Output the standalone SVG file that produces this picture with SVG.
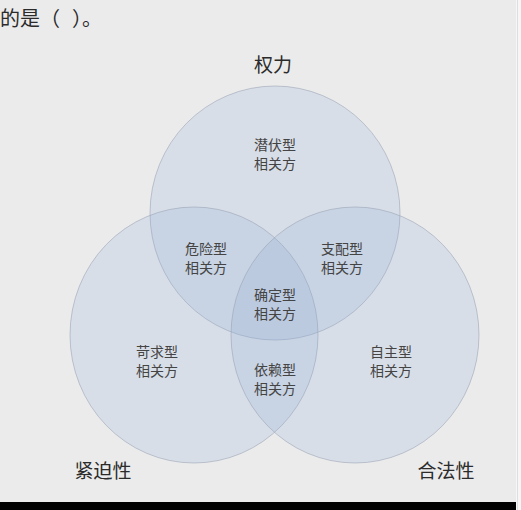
<svg xmlns="http://www.w3.org/2000/svg" width="521" height="510" viewBox="0 0 521 510">
<style>
.c{fill:rgb(140,170,215);fill-opacity:0.2;stroke:rgb(150,160,178);stroke-opacity:0.55;stroke-width:1}
.t{font-family:"Noto Sans CJK SC","Noto Sans",sans-serif;fill:#444;font-size:14px;text-anchor:middle;dominant-baseline:central}
.big{font-family:"Noto Sans CJK SC","Noto Sans",sans-serif;fill:#2b2b2b;font-size:19px;text-anchor:middle;dominant-baseline:central}
</style>
<rect x="0" y="0" width="521" height="510" fill="#ebebeb"/>
<text x="0" y="26" font-family="'Noto Sans CJK SC','Noto Sans',sans-serif" font-size="20" fill="#2b2b2b">的是（<tspan x="72">）。</tspan></text>
<g id="circle-power"><ellipse class="c" cx="275" cy="213" rx="125" ry="127"/></g>
<g id="circle-urgency"><ellipse class="c" cx="194" cy="335" rx="124" ry="128"/></g>
<g id="circle-legitimacy"><ellipse class="c" cx="355" cy="335" rx="124" ry="128"/></g>
<g id="connectors"></g>
<g id="label-power"><text class="big" x="273" y="63">权力</text></g>
<g id="label-urgency"><text class="big" x="103" y="469">紧迫性</text></g>
<g id="label-legitimacy"><text class="big" x="446" y="469">合法性</text></g>
<g id="dormant"><text class="t" x="275" y="144">潜伏型</text><text class="t" x="275" y="163">相关方</text></g>
<g id="dangerous"><text class="t" x="206" y="248">危险型</text><text class="t" x="206" y="267">相关方</text></g>
<g id="dominant"><text class="t" x="342" y="248">支配型</text><text class="t" x="342" y="267">相关方</text></g>
<g id="definitive"><text class="t" x="275" y="294">确定型</text><text class="t" x="275" y="313">相关方</text></g>
<g id="demanding"><text class="t" x="157" y="351">苛求型</text><text class="t" x="157" y="370">相关方</text></g>
<g id="discretionary"><text class="t" x="391" y="351">自主型</text><text class="t" x="391" y="370">相关方</text></g>
<g id="dependent"><text class="t" x="275" y="369">依赖型</text><text class="t" x="275" y="388">相关方</text></g>
<rect x="0" y="502" width="516" height="8" fill="#000"/>
<rect x="516" y="0" width="5" height="510" fill="#f6f6f6"/>
<line x1="517.5" y1="0" x2="517.5" y2="510" stroke="#dedede" stroke-width="1"/>
</svg>
